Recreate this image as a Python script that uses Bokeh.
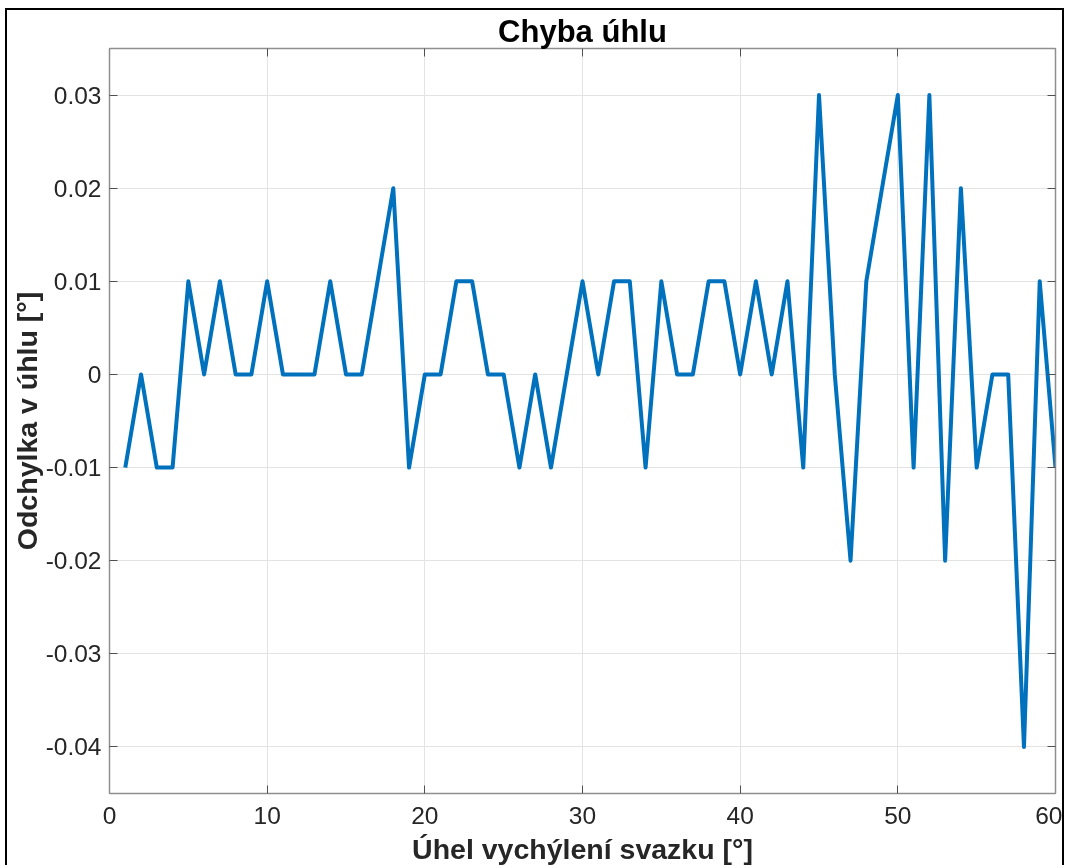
from bokeh.plotting import figure
from bokeh.models import FixedTicker, LinearAxis, Range1d, CustomJSTickFormatter
from bokeh.embed import file_html
from bokeh.resources import INLINE

# data
angle = list(range(1, 61))
error = [
    -0.01, 0.00, -0.01, -0.01, 0.01, 0.00, 0.01, 0.00, 0.00, 0.01,
    0.00, 0.00, 0.00, 0.01, 0.00, 0.00, 0.01, 0.02, -0.01, 0.00,
    0.00, 0.01, 0.01, 0.00, 0.00, -0.01, 0.00, -0.01, 0.00, 0.01,
    0.00, 0.01, 0.01, -0.01, 0.01, 0.00, 0.00, 0.01, 0.01, 0.00,
    0.01, 0.00, 0.01, -0.01, 0.03, 0.00, -0.02, 0.01, 0.02, 0.03,
    -0.01, 0.03, -0.02, 0.02, -0.01, 0.00, 0.00, -0.04, 0.01, -0.01,
]
x_ticks = [0, 10, 20, 30, 40, 50, 60]
y_ticks = [-0.04, -0.03, -0.02, -0.01, 0.0, 0.01, 0.02, 0.03]

FONT = "Liberation Sans"
AXIS_COL = "#8f8f8f"
TEXT_COL = "#262626"

p = figure(width=1059, height=863, output_backend="svg", toolbar_location=None,
           x_range=Range1d(0, 60), y_range=Range1d(-0.045, 0.035),
           min_border_left=101, min_border_right=11, min_border_top=38, min_border_bottom=80)
p.styles = {"position": "fixed", "left": "5px", "top": "8px",
            "border-top": "2px solid black", "border-left": "2px solid black",
            "border-right": "2px solid black"}

p.title.text = "Chyba úhlu"
p.title.align = "center"
p.title.text_font = FONT
p.title.text_font_size = "31px"
p.title.text_font_style = "bold"
p.title.text_color = "black"
p.title.standoff = 0

p.line(angle, error, line_color="#0072BD", line_width=4, line_join="round")

fmt = CustomJSTickFormatter(code="""
    if (Math.abs(tick) < 1e-9) return "0";
    return tick.toFixed(2);
""")
blank = CustomJSTickFormatter(code="return '';")

p.xaxis.ticker = FixedTicker(ticks=x_ticks)
p.yaxis.ticker = FixedTicker(ticks=y_ticks)
p.yaxis.formatter = fmt
p.xaxis.axis_label = "Úhel vychýlení svazku [°]"
p.yaxis.axis_label = "Odchylka v úhlu [°]"

for ax in (p.xaxis[0], p.yaxis[0]):
    ax.axis_line_color = AXIS_COL
    ax.axis_line_width = 1.5
    ax.major_tick_line_color = "#505050"
    ax.major_tick_in = 8
    ax.major_tick_out = 0
    ax.minor_tick_line_color = None
    ax.major_label_text_font = FONT
    ax.major_label_text_font_size = "24.5px"
    ax.major_label_text_color = TEXT_COL
    ax.axis_label_text_font = FONT
    ax.axis_label_text_font_size = "28.5px"
    ax.axis_label_text_font_style = "bold"
    ax.axis_label_text_color = TEXT_COL
p.xaxis.major_label_standoff = 13
p.xaxis.axis_label_standoff = 6
p.yaxis.major_label_standoff = 8
p.yaxis.axis_label_standoff = 0

# box axes on top and right with inward ticks
top = LinearAxis(ticker=FixedTicker(ticks=x_ticks), formatter=blank, major_label_standoff=0)
right = LinearAxis(ticker=FixedTicker(ticks=y_ticks), formatter=blank, major_label_standoff=0)
for ax in (top, right):
    ax.axis_line_color = AXIS_COL
    ax.axis_line_width = 1.5
    ax.major_tick_line_color = "#505050"
    ax.major_tick_in = 8
    ax.major_tick_out = 0
    ax.minor_tick_line_color = None
p.add_layout(top, "above")
p.add_layout(right, "right")

p.xgrid.ticker = FixedTicker(ticks=x_ticks)
p.ygrid.ticker = FixedTicker(ticks=y_ticks)
p.grid.grid_line_color = "#e3e3e3"
p.grid.grid_line_width = 1
p.outline_line_color = None
p.background_fill_color = "white"
p.border_fill_color = "white"

open("out.html", "w").write(file_html(p, INLINE))
